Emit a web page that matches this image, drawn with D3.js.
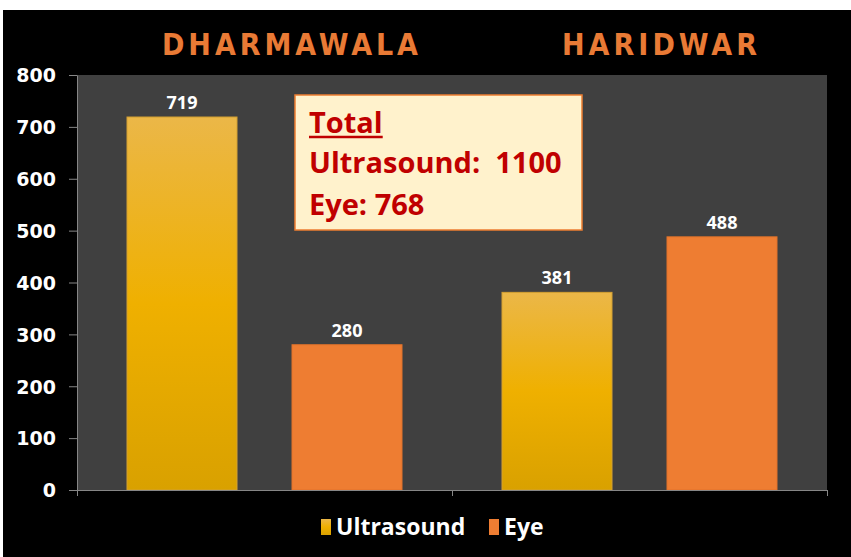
<!DOCTYPE html>
<html lang="en">
<head>
    <meta charset="UTF-8">
    <title>Ultrasound / Eye</title>
    <script src="https://d3js.org/d3.v7.min.js"></script>
    <style>
        body { margin: 0; background: #fff; }
        .axis path, .axis line { stroke: #868686; }
        .axis text { fill: #fff; font-family: "DejaVu Sans", sans-serif; font-weight: bold; font-size: 19px; }
        .title { fill: #E97A35; font-family: "DejaVu Sans Condensed", "DejaVu Sans", sans-serif; font-weight: bold; font-size: 30px; }
        .label { fill: #fff; font-family: "Open Sans", sans-serif; font-weight: bold; font-size: 18px; }
        .box text { fill: #C00000; font-family: "Open Sans", sans-serif; font-weight: bold; font-size: 29px; }
        .legend text { fill: #fff; font-family: "Open Sans", sans-serif; font-weight: bold; font-size: 23px; }
    </style>
</head>
<body>
<script>
    const width  = 851;
    const height = 557;

    const categories = ["DHARMAWALA", "HARIDWAR"];
    const seriesNames = ["Ultrasound", "Eye"];
    const ultrasound = [719, 381];
    const eye = [280, 488];
    const yTicks = [0, 100, 200, 300, 400, 500, 600, 700, 800];
    const totalLines = ["Total", "Ultrasound:  1100", "Eye: 768"];

    const colors = { Ultrasound: "url(#goldGrad)", Eye: "#EE7D32" };

    const plot = { left: 77, right: 827, top: 75, bottom: 490 };
    // title placement (start x, width) as laid out in the original
    const titleLayout = [[162, 256], [562, 195]];

    const svg = d3.select("body").append("svg").attr("width", width).attr("height", height);

    const defs = svg.append("defs");
    const g = defs.append("linearGradient").attr("id", "goldGrad")
        .attr("x1", 0).attr("y1", 0).attr("x2", 0).attr("y2", 1);
    g.append("stop").attr("offset", "0%").attr("stop-color", "#EBB748");
    g.append("stop").attr("offset", "50%").attr("stop-color", "#EFB000");
    g.append("stop").attr("offset", "100%").attr("stop-color", "#D9A100");

    // background
    svg.append("rect").attr("x", 3).attr("y", 10).attr("width", width - 3).attr("height", height - 10).attr("fill", "#000");
    svg.append("rect").attr("x", plot.left).attr("y", plot.top)
        .attr("width", plot.right - plot.left).attr("height", plot.bottom - plot.top)
        .attr("fill", "#404040");

    const x = d3.scaleBand().domain(categories).range([plot.left, plot.right]);
    const xs = d3.scaleBand().domain(seriesNames).range([0, x.bandwidth()])
        .paddingInner(1 / 3).paddingOuter(50 / 165);
    const y = d3.scaleLinear().domain([0, 800]).range([plot.bottom, plot.top]);

    const rows = categories.map((c, i) => ({ cat: c, Ultrasound: ultrasound[i], Eye: eye[i] }));

    // titles
    svg.selectAll("text.title").data(categories).join("text")
        .attr("class", "title")
        .attr("x", (d, i) => titleLayout[i][0])
        .attr("y", 55)
        .attr("textLength", (d, i) => titleLayout[i][1])
        .attr("lengthAdjust", "spacing")
        .text(d => d);

    // bars
    const groups = svg.selectAll("g.cat").data(rows).join("g")
        .attr("class", "cat")
        .attr("transform", d => `translate(${x(d.cat)},0)`);

    groups.selectAll("rect").data(d => seriesNames.map(s => ({ s, v: d[s] }))).join("rect")
        .attr("x", d => xs(d.s))
        .attr("width", xs.bandwidth())
        .attr("y", d => y(d.v))
        .attr("height", d => y(0) - y(d.v))
        .attr("fill", d => colors[d.s])
        .attr("stroke", d => d.s === "Eye" ? "#E2732A" : "#D3A032")
        .attr("stroke-width", 1);

    groups.selectAll("text").data(d => seriesNames.map(s => ({ s, v: d[s] }))).join("text")
        .attr("class", "label")
        .attr("x", d => xs(d.s) + xs.bandwidth() / 2)
        .attr("y", d => y(d.v) - 8)
        .attr("text-anchor", "middle")
        .text(d => d.v);

    // axes
    svg.append("g").attr("class", "axis")
        .attr("transform", `translate(${plot.left},0)`)
        .call(d3.axisLeft(y).tickValues(yTicks).tickSize(8).tickPadding(13).tickSizeOuter(0))
        .call(a => a.selectAll("text").attr("dy", "0.36em"));

    const xEdge = d3.scaleLinear().domain([0, categories.length]).range([plot.left, plot.right]);
    svg.append("g").attr("class", "axis")
        .attr("transform", `translate(0,${plot.bottom})`)
        .call(d3.axisBottom(xEdge).tickValues(d3.range(categories.length + 1)).tickFormat("").tickSize(6).tickSizeOuter(0));

    // totals box
    const box = svg.append("g").attr("class", "box");
    box.append("rect").attr("x", 295).attr("y", 95).attr("width", 287).attr("height", 135)
        .attr("fill", "#FFF2CC").attr("stroke", "#ED7D31").attr("stroke-width", 1.5);
    box.selectAll("text").data(totalLines).join("text")
        .attr("x", 309)
        .attr("y", (d, i) => [133, 173, 215][i])
        .text(d => d)
        .attr("xml:space", "preserve");
    const tw = box.select("text").node().getComputedTextLength();
    box.append("line").attr("x1", 309).attr("x2", 309 + tw).attr("y1", 137).attr("y2", 137)
        .attr("stroke", "#C00000").attr("stroke-width", 2.5);

    // legend
    const legend = svg.append("g").attr("class", "legend");
    const legX = [321, 489];
    seriesNames.forEach((s, i) => {
        legend.append("rect").attr("x", legX[i]).attr("y", 519).attr("width", 10).attr("height", 16)
            .attr("fill", colors[s]);
        legend.append("text").attr("x", legX[i] + 15).attr("y", 535).text(s);
    });
</script>
</body>
</html>
